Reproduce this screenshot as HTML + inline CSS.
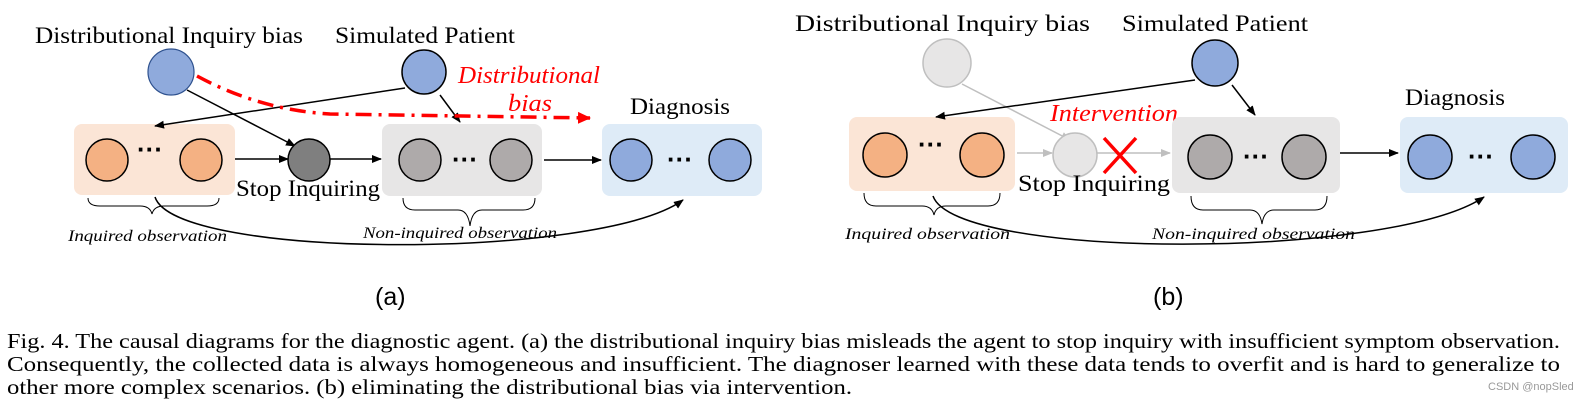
<!DOCTYPE html>
<html><head><meta charset="utf-8"><style>
html,body{margin:0;padding:0;background:#fff;}
svg{display:block;}
text{font-family:"Liberation Serif","Times New Roman",serif;}
.t{font-size:23px;fill:#000;}
.i{font-style:italic;font-size:16px;fill:#000;}
.r{font-style:italic;font-size:24px;fill:#f00;}
.c{font-size:21px;fill:#000;}
.l{font-family:"Liberation Sans",sans-serif;font-size:25px;fill:#000;}
.d{font-family:"Liberation Sans",sans-serif;font-size:26px;font-weight:bold;fill:#000;}
</style></head><body>
<svg width="1592" height="409" viewBox="0 0 1592 409" xmlns="http://www.w3.org/2000/svg">
<defs>
<marker id="a" markerWidth="10" markerHeight="10" refX="9" refY="5" orient="auto" markerUnits="userSpaceOnUse"><path d="M0,1 L10,5 L0,9 Z" fill="#000"/></marker>
<marker id="g" markerWidth="10" markerHeight="10" refX="9" refY="5" orient="auto" markerUnits="userSpaceOnUse"><path d="M0,1 L10,5 L0,9 Z" fill="#bfbfbf"/></marker>
<marker id="rd" markerWidth="14" markerHeight="14" refX="12" refY="7" orient="auto" markerUnits="userSpaceOnUse"><path d="M0,1 L13,7 L0,13 Z" fill="#f00"/></marker>
</defs>

<!-- Panel a -->
<text class="t" font-family="Liberation Serif" x="35" y="43" textLength="268" lengthAdjust="spacingAndGlyphs">Distributional Inquiry bias</text>
<text class="t" font-family="Liberation Serif" x="335" y="43" textLength="180" lengthAdjust="spacingAndGlyphs">Simulated Patient</text>
<text class="r" font-family="Liberation Serif" x="458" y="83" textLength="142" lengthAdjust="spacingAndGlyphs">Distributional</text>
<text class="r" font-family="Liberation Serif" x="508" y="111" textLength="44" lengthAdjust="spacingAndGlyphs">bias</text>
<text class="t" font-family="Liberation Serif" x="630" y="114" textLength="100" lengthAdjust="spacingAndGlyphs">Diagnosis</text>

<rect x="74" y="124" width="161" height="71" rx="8" fill="#fbe5d6"/>
<rect x="382" y="124" width="160" height="72" rx="8" fill="#e7e6e6"/>
<rect x="602" y="124" width="160" height="72" rx="8" fill="#deebf7"/>

<line x1="187" y1="90" x2="295" y2="146" stroke="#000" stroke-width="1.5" marker-end="url(#a)"/>
<line x1="405" y1="88" x2="155" y2="126" stroke="#000" stroke-width="1.5" marker-end="url(#a)"/>
<line x1="440" y1="95" x2="460" y2="122" stroke="#000" stroke-width="1.5" marker-end="url(#a)"/>
<line x1="235" y1="159" x2="288" y2="159" stroke="#000" stroke-width="1.5" marker-end="url(#a)"/>
<line x1="330" y1="159" x2="381" y2="159" stroke="#000" stroke-width="1.5" marker-end="url(#a)"/>
<line x1="544" y1="160" x2="601" y2="160" stroke="#000" stroke-width="1.5" marker-end="url(#a)"/>
<path d="M197,76 Q260,110 330,114 L590,118" fill="none" stroke="#f00" stroke-width="3.5" stroke-dasharray="16,7,3,7" marker-end="url(#rd)"/>

<circle cx="171" cy="72" r="23" fill="#8faadc" stroke="#2f528f" stroke-width="1.2"/>
<circle cx="424" cy="72" r="22" fill="#8faadc" stroke="#000" stroke-width="1.5"/>
<circle cx="107" cy="160" r="21" fill="#f4b183" stroke="#000" stroke-width="1.5"/>
<circle cx="201" cy="160" r="21" fill="#f4b183" stroke="#000" stroke-width="1.5"/>
<text class="d" x="137" y="158">···</text>
<circle cx="309" cy="160" r="21" fill="#7f7f7f" stroke="#000" stroke-width="1.5"/>
<circle cx="420" cy="160" r="21" fill="#aeaaaa" stroke="#000" stroke-width="1.5"/>
<circle cx="511" cy="160" r="21" fill="#aeaaaa" stroke="#000" stroke-width="1.5"/>
<text class="d" x="452" y="168">···</text>
<circle cx="631" cy="160" r="21" fill="#8faadc" stroke="#000" stroke-width="1.5"/>
<circle cx="730" cy="160" r="21" fill="#8faadc" stroke="#000" stroke-width="1.5"/>
<text class="d" x="667" y="168">···</text>
<text class="t" font-family="Liberation Serif" x="236" y="196" textLength="144" lengthAdjust="spacingAndGlyphs">Stop Inquiring</text>

<path d="M88,198 Q88,206 100,206 L140,206 Q150,206 152,214 Q154,206 164,206 L207,206 Q219,206 219,198" fill="none" stroke="#000" stroke-width="1"/>
<path d="M403,198 Q403,210 415,210 L458,210 Q468,210 470,226 Q472,210 482,210 L523,210 Q535,210 535,198" fill="none" stroke="#000" stroke-width="1"/>
<text class="i" font-family="Liberation Serif" x="68" y="241" textLength="159" lengthAdjust="spacingAndGlyphs">Inquired observation</text>
<text class="i" font-family="Liberation Serif" x="363" y="238" textLength="194" lengthAdjust="spacingAndGlyphs">Non-inquired observation</text>
<path d="M155,197 C175,260 600,260 683,200" fill="none" stroke="#000" stroke-width="1.5" marker-end="url(#a)"/>
<text class="l" x="375" y="305">(a)</text>

<!-- Panel b -->
<text class="t" font-family="Liberation Serif" x="795" y="31" textLength="295" lengthAdjust="spacingAndGlyphs">Distributional Inquiry bias</text>
<text class="t" font-family="Liberation Serif" x="1122" y="31" textLength="186" lengthAdjust="spacingAndGlyphs">Simulated Patient</text>
<text class="t" font-family="Liberation Serif" x="1405" y="105" textLength="100" lengthAdjust="spacingAndGlyphs">Diagnosis</text>
<text class="r" font-family="Liberation Serif" x="1050" y="121" textLength="128" lengthAdjust="spacingAndGlyphs">Intervention</text>

<rect x="849" y="117" width="166" height="74" rx="8" fill="#fbe5d6"/>
<rect x="1172" y="117" width="168" height="76" rx="8" fill="#e7e6e6"/>
<rect x="1400" y="117" width="168" height="76" rx="8" fill="#deebf7"/>

<line x1="962" y1="84" x2="1070" y2="140" stroke="#bfbfbf" stroke-width="1.5" marker-end="url(#g)"/>
<line x1="1017" y1="153" x2="1052" y2="153" stroke="#bfbfbf" stroke-width="1.5" marker-end="url(#g)"/>
<line x1="1097" y1="153" x2="1170" y2="153" stroke="#bfbfbf" stroke-width="1.5" marker-end="url(#g)"/>
<line x1="1195" y1="80" x2="936" y2="117" stroke="#000" stroke-width="1.5" marker-end="url(#a)"/>
<line x1="1232" y1="85" x2="1255" y2="115" stroke="#000" stroke-width="1.5" marker-end="url(#a)"/>
<line x1="1340" y1="153" x2="1398" y2="153" stroke="#000" stroke-width="1.5" marker-end="url(#a)"/>

<circle cx="947" cy="63" r="24" fill="#e7e6e6" stroke="#bfbfbf" stroke-width="1.5"/>
<circle cx="1215" cy="63" r="23" fill="#8faadc" stroke="#000" stroke-width="1.5"/>
<circle cx="885" cy="155" r="22" fill="#f4b183" stroke="#000" stroke-width="1.5"/>
<circle cx="982" cy="155" r="22" fill="#f4b183" stroke="#000" stroke-width="1.5"/>
<text class="d" x="918" y="153">···</text>
<circle cx="1075" cy="155" r="22" fill="#e7e6e6" stroke="#bfbfbf" stroke-width="1.5"/>
<path d="M1104,138 L1136,173 M1136,138 L1104,173" stroke="#f00" stroke-width="3.5"/>
<circle cx="1210" cy="157" r="22" fill="#aeaaaa" stroke="#000" stroke-width="1.5"/>
<circle cx="1304" cy="157" r="22" fill="#aeaaaa" stroke="#000" stroke-width="1.5"/>
<text class="d" x="1243" y="165">···</text>
<circle cx="1430" cy="157" r="22" fill="#8faadc" stroke="#000" stroke-width="1.5"/>
<circle cx="1533" cy="157" r="22" fill="#8faadc" stroke="#000" stroke-width="1.5"/>
<text class="d" x="1468" y="165">···</text>
<text class="t" font-family="Liberation Serif" x="1018" y="191" textLength="152" lengthAdjust="spacingAndGlyphs">Stop Inquiring</text>

<path d="M864,193 Q864,206 876,206 L922,206 Q932,206 934,215 Q936,206 946,206 L988,206 Q1000,206 1000,193" fill="none" stroke="#000" stroke-width="1"/>
<path d="M1191,196 Q1191,210 1203,210 L1250,210 Q1260,210 1262,224 Q1264,210 1274,210 L1315,210 Q1327,210 1327,196" fill="none" stroke="#000" stroke-width="1"/>
<text class="i" font-family="Liberation Serif" x="845" y="239" textLength="165" lengthAdjust="spacingAndGlyphs">Inquired observation</text>
<text class="i" font-family="Liberation Serif" x="1152" y="239" textLength="203" lengthAdjust="spacingAndGlyphs">Non-inquired observation</text>
<path d="M933,196 C955,260 1390,260 1484,197" fill="none" stroke="#000" stroke-width="1.5" marker-end="url(#a)"/>
<text class="l" x="1153" y="305">(b)</text>

<!-- Caption -->
<text class="c" font-family="Liberation Serif" x="7" y="348" textLength="1553" lengthAdjust="spacingAndGlyphs">Fig. 4.  The causal diagrams for the diagnostic agent. (a) the distributional inquiry bias misleads the agent to stop inquiry with insufficient symptom observation.</text>
<text class="c" font-family="Liberation Serif" x="7" y="371" textLength="1553" lengthAdjust="spacingAndGlyphs">Consequently, the collected data is always homogeneous and insufficient. The diagnoser learned with these data tends to overfit and is hard to generalize to</text>
<text class="c" font-family="Liberation Serif" x="7" y="394" textLength="845" lengthAdjust="spacingAndGlyphs">other more complex scenarios. (b) eliminating the distributional bias via intervention.</text>
<text x="1488" y="390" font-family="Liberation Sans, sans-serif" style="font-family:'Liberation Sans',sans-serif" font-size="11" fill="#999">CSDN @nopSled</text>
</svg>
</body></html>
